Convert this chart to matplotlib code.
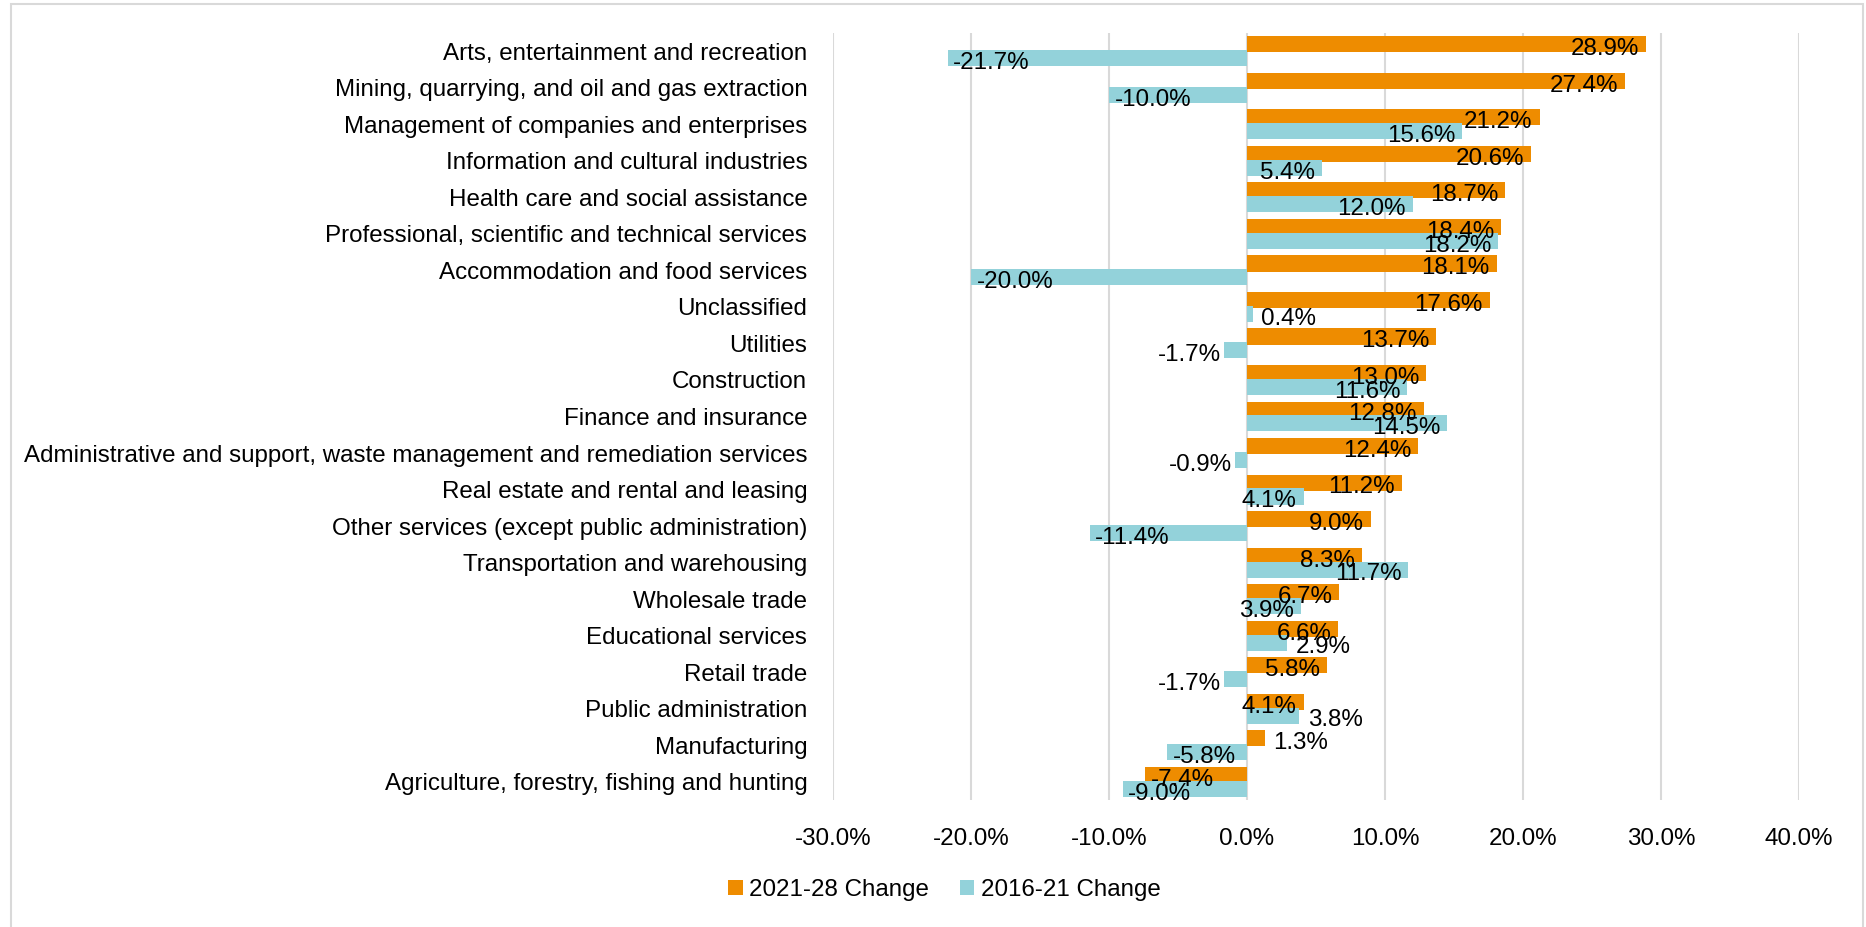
import matplotlib
matplotlib.use("Agg")
import matplotlib.pyplot as plt
from matplotlib.patches import Patch, Rectangle
import numpy as np

plt.rcParams['font.family'] = ['Liberation Sans', 'DejaVu Sans']

categories = [
    "Arts, entertainment and recreation",
    "Mining, quarrying, and oil and gas extraction",
    "Management of companies and enterprises",
    "Information and cultural industries",
    "Health care and social assistance",
    "Professional, scientific and technical services",
    "Accommodation and food services",
    "Unclassified",
    "Utilities",
    "Construction",
    "Finance and insurance",
    "Administrative and support, waste management and remediation services",
    "Real estate and rental and leasing",
    "Other services (except public administration)",
    "Transportation and warehousing",
    "Wholesale trade",
    "Educational services",
    "Retail trade",
    "Public administration",
    "Manufacturing",
    "Agriculture, forestry, fishing and hunting",
]
change_2021_28 = [28.9, 27.4, 21.2, 20.6, 18.7, 18.4, 18.1, 17.6, 13.7, 13.0, 12.8,
                  12.4, 11.2, 9.0, 8.3, 6.7, 6.6, 5.8, 4.1, 1.3, -7.4]
change_2016_21 = [-21.7, -10.0, 15.6, 5.4, 12.0, 18.2, -20.0, 0.4, -1.7, 11.6, 14.5,
                  -0.9, 4.1, -11.4, 11.7, 3.9, 2.9, -1.7, 3.8, -5.8, -9.0]
series_names = ["2021-28 Change", "2016-21 Change"]
x_ticks = [-30, -20, -10, 0, 10, 20, 30, 40]

ORANGE = "#ee8c00"
BLUE = "#93d2da"
GRID = "#d9d9d9"
FS = 17.4

fig = plt.figure(figsize=(18.66, 9.27), dpi=100)
ax = fig.add_axes([0.4464, 0.137, 0.9641 - 0.4464, 0.9644 - 0.137])

y = np.arange(len(categories))
off = 0.19
h = 0.44
ax.barh(y - off, change_2021_28, height=h, color=ORANGE, zorder=3)
ax.barh(y + off, change_2016_21, height=h, color=BLUE, zorder=3)

ax.set_xlim(-30, 40)
ax.set_ylim(len(categories) - 0.5, -0.5)
ax.set_xticks(x_ticks)
ax.set_xticklabels([f"{t:.1f}%" for t in x_ticks], fontsize=FS)
ax.set_yticks(y)
ax.set_yticklabels(categories, fontsize=FS)
ax.tick_params(axis='y', length=0, pad=18.5)
ax.tick_params(axis='x', length=0, pad=20)
for s in ax.spines.values():
    s.set_visible(False)
ax.grid(axis='x', color=GRID, linewidth=1.5, zorder=0)
ax.set_axisbelow(True)

DY = -3.5

def label(vals, offs):
    for i, v in enumerate(vals):
        txt = f"{v:.1f}%"
        yy = i + offs
        if abs(v) >= 3.85:
            # inside end
            if v > 0:
                ax.annotate(txt, (v, yy), xytext=(-5, DY), textcoords='offset points',
                            ha='right', va='center', fontsize=FS, zorder=5)
            else:
                ax.annotate(txt, (v, yy), xytext=(4, DY), textcoords='offset points',
                            ha='left', va='center', fontsize=FS, zorder=5)
        else:
            if v >= 0:
                ax.annotate(txt, (v, yy), xytext=(6, DY), textcoords='offset points',
                            ha='left', va='center', fontsize=FS, zorder=5)
            else:
                ax.annotate(txt, (v, yy), xytext=(-2, DY), textcoords='offset points',
                            ha='right', va='center', fontsize=FS, zorder=5)

label(change_2021_28, -off)
label(change_2016_21, off)

handles = [Patch(facecolor=ORANGE, edgecolor='none'), Patch(facecolor=BLUE, edgecolor='none')]
fig.legend(handles, series_names, loc='center', bbox_to_anchor=(0.506, 0.04),
           ncol=2, frameon=False, fontsize=FS, handlelength=0.6, handleheight=0.6,
           handletextpad=0.25, columnspacing=1.3)

# chart outer border
fig.patches.append(Rectangle((11 / 1866, -0.01), (1863 - 11) / 1866, 1 - 4 / 927 + 0.01,
                             transform=fig.transFigure, fill=False, edgecolor=GRID,
                             linewidth=1.5, zorder=0))

fig.savefig("out.png", dpi=100)
